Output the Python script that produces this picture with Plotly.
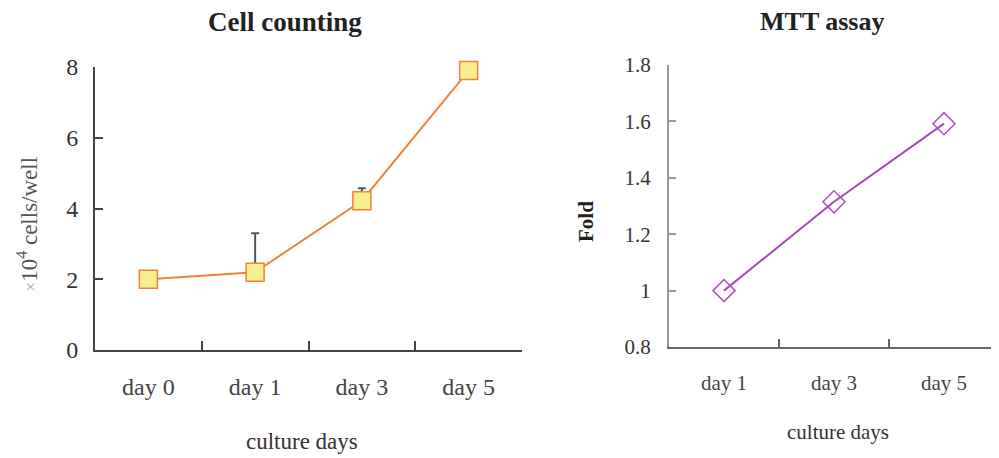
import plotly.graph_objects as go

# ---- data ----
cell_days = ["day 0", "day 1", "day 3", "day 5"]
cell_counts = [2.0, 2.2, 4.22, 7.9]
cell_err_up = [0.0, 1.1, 0.35, 0.3]

mtt_days = ["day 1", "day 3", "day 5"]
mtt_fold = [1.0, 1.315, 1.592]

cell_yticks = [0, 2, 4, 6, 8]
mtt_yticks = [0.8, 1.0, 1.2, 1.4, 1.6, 1.8]
mtt_yticklabels = ["0.8", "1", "1.2", "1.4", "1.6", "1.8"]

# page body has an 8px margin: figure is drawn from page (8, 8)
OFF = 8
W, H = 999 - OFF, 458 - OFF
FONT = "Liberation Serif, Times New Roman, serif"

def px_x(p):
    return (p - OFF) / W

def px_y(p):
    return (H - (p - OFF)) / H

fig = go.Figure()

fig.add_trace(go.Scatter(
    x=cell_days, y=cell_counts, mode="lines+markers",
    line=dict(color="#F0823A", width=2),
    marker=dict(symbol="square", size=18, color="#F7EF8F",
                line=dict(color="#F0823A", width=1.5)),
    error_y=dict(type="data", symmetric=False, array=cell_err_up,
                 arrayminus=[0] * len(cell_err_up),
                 color="#555555", thickness=2, width=4),
    cliponaxis=False, xaxis="x", yaxis="y", showlegend=False,
))

fig.add_trace(go.Scatter(
    x=mtt_days, y=mtt_fold, mode="lines+markers",
    line=dict(color="#A848B8", width=2),
    marker=dict(symbol="diamond-open", size=17, color="#B050C0",
                line=dict(color="#B050C0", width=1.5)),
    cliponaxis=False, xaxis="x2", yaxis="y2", showlegend=False,
))

axis_common = dict(showgrid=False, zeroline=False, showline=True,
                   ticks="inside", mirror=False, automargin=False)

fig.update_layout(
    template="none",
    width=W, height=H,
    margin=dict(l=0, r=0, t=0, b=0, autoexpand=False),
    paper_bgcolor="white", plot_bgcolor="white",
    font=dict(family=FONT, color="#333333"),
    xaxis=dict(**axis_common, domain=[px_x(95), px_x(522)],
               type="category", categoryorder="array", categoryarray=cell_days,
               range=[-0.5, 3.5], tickson="boundaries",
               linecolor="#444444", linewidth=2, tickcolor="#444444",
               ticklen=9, tickwidth=2,
               tickfont=dict(family=FONT, size=24, color="#444444"),
               ticklabelstandoff=14, anchor="y"),
    yaxis=dict(**axis_common, domain=[px_y(350), px_y(67)],
               range=[0, 8], tickvals=cell_yticks,
               linecolor="#444444", linewidth=2, tickcolor="#444444",
               ticklen=8, tickwidth=2,
               tickfont=dict(family=FONT, size=24, color="#333333"),
               ticklabelstandoff=10, anchor="x"),
    xaxis2=dict(**axis_common, domain=[px_x(669), 1.0],
                type="category", categoryorder="array", categoryarray=mtt_days,
                range=[-0.5, 2.5], tickson="boundaries",
                linecolor="#666666", linewidth=2, tickcolor="#666666",
                ticklen=8, tickwidth=2,
                tickfont=dict(family=FONT, size=21, color="#444444"),
                ticklabelstandoff=16, anchor="y2"),
    yaxis2=dict(**axis_common, domain=[px_y(347), px_y(65)],
                range=[0.8, 1.8], tickvals=mtt_yticks, ticktext=mtt_yticklabels,
                linecolor="#999999", linewidth=2, tickcolor="#999999",
                ticklen=7, tickwidth=1.5,
                tickfont=dict(family=FONT, size=21, color="#333333"),
                ticklabelstandoff=12, anchor="x2"),
)

ann = [
    dict(text="<b>Cell counting</b>", x=px_x(285), y=px_y(22),
         font=dict(size=27, color="#222222")),
    dict(text="<b>MTT assay</b>", x=px_x(822), y=px_y(22),
         font=dict(size=26, color="#222222")),
    dict(text="culture days", x=px_x(302), y=px_y(441),
         font=dict(size=23, color="#333333")),
    dict(text="culture days", x=px_x(838), y=px_y(432),
         font=dict(size=21, color="#333333")),
    dict(text="<span style='color:#aaaaaa;font-size:18px'>×</span>10<sup>4</sup> cells/well",
         x=px_x(27), y=px_y(225), textangle=-90,
         font=dict(size=23, color="#555555")),
    dict(text="<b>Fold</b>", x=px_x(586), y=px_y(222), textangle=-90,
         font=dict(size=21, color="#222222")),
]
for a in ann:
    a.update(xref="paper", yref="paper", showarrow=False,
             xanchor="center", yanchor="middle")
    a["font"]["family"] = FONT
fig.update_layout(annotations=ann)

fig.write_html("out.html")
